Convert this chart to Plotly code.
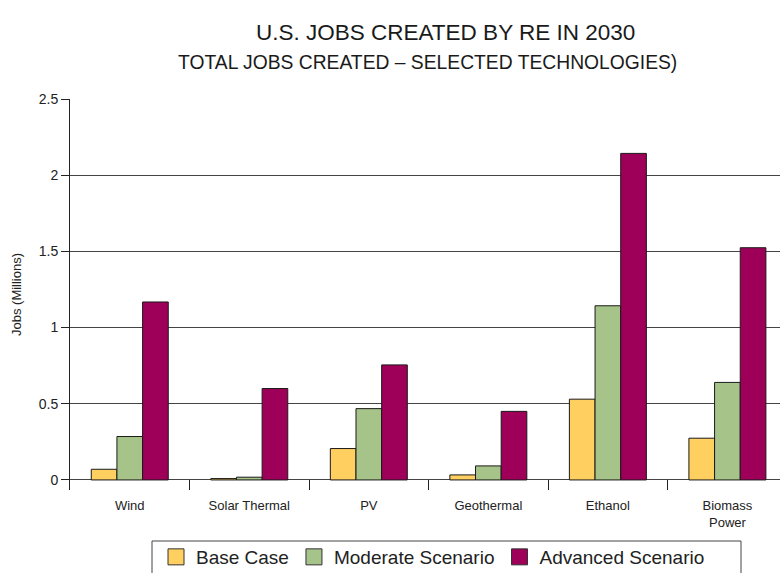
import plotly.graph_objects as go

# Technologies and jobs created in 2030 (millions)
technologies = ["Wind", "Solar Thermal", "PV", "Geothermal", "Ethanol", "Biomass<br>Power"]
base_case = [0.07, 0.009, 0.206, 0.033, 0.53, 0.274]
moderate_scenario = [0.285, 0.018, 0.468, 0.092, 1.143, 0.64]
advanced_scenario = [1.168, 0.60, 0.755, 0.45, 2.143, 1.524]

series_names = ["Base Case", "Moderate Scenario", "Advanced Scenario"]
series_colors = ["#FFCF60", "#A6C48A", "#9E0059"]
y_ticks = [0, 0.5, 1, 1.5, 2, 2.5]
y_tick_labels = ["0", "0.5", "1", "1.5", "2", "2.5"]

FONT = "Liberation Sans, Arial, sans-serif"

fig = go.Figure()

for name, values, color in zip(series_names,
                               [base_case, moderate_scenario, advanced_scenario],
                               series_colors):
    fig.add_trace(go.Bar(
        x=technologies, y=values, name=name,
        marker=dict(color=color, line=dict(color="#1a1a1a", width=1)),
        showlegend=False,
    ))
    # larger square swatch for the legend
    fig.add_trace(go.Scatter(
        x=[None], y=[None], mode="markers", name=name,
        marker=dict(symbol="square", size=16, color=color,
                    line=dict(color="#333333", width=1)),
        showlegend=True,
    ))

fig.update_layout(
    width=780, height=573,
    margin=dict(l=70, r=0, t=99, b=83, autoexpand=False),
    paper_bgcolor="white", plot_bgcolor="white",
    barmode="group", bargap=0.356, bargroupgap=0,
    font=dict(family=FONT, color="#222222"),
    legend=dict(
        orientation="h", xref="container", yref="container",
        x=156 / 780, y=1 - 538 / 573, xanchor="left", yanchor="top",
        font=dict(family=FONT, size=19, color="#222222"),
        borderwidth=0, bgcolor="rgba(0,0,0,0)",
        itemsizing="trace",
    ),
    xaxis=dict(
        type="category", range=[-0.5, 5.44],
        tickson="boundaries", ticks="inside", ticklen=10, tickcolor="#222222",
        showgrid=False, showline=False, zeroline=False,
        ticklabelstandoff=6,
        tickfont=dict(family=FONT, size=13, color="#222222"),
    ),
    yaxis=dict(
        range=[-0.066, 2.5],
        tickvals=y_ticks, ticktext=y_tick_labels,
        ticks="outside", ticklen=8, tickcolor="#222222",
        showgrid=True, gridcolor="#444444", gridwidth=1,
        showline=True, linecolor="#222222", linewidth=1,
        zeroline=False,
        tickfont=dict(family=FONT, size=14, color="#222222"),
        title=dict(text="Jobs (Millions)", standoff=14,
                   font=dict(family=FONT, size=13, color="#222222")),
    ),
    # legend frame, running off the bottom edge of the page
    shapes=[
        dict(type="rect", xref="paper", yref="paper",
             x0=(152 - 70) / 710, x1=(741 - 70) / 710,
             y0=(490 - 541) / 391, y1=(490 - 600) / 391,
             line=dict(color="#444444", width=1), fillcolor="rgba(0,0,0,0)",
             layer="below"),
    ],
    annotations=[
        dict(text="U.S. JOBS CREATED BY RE IN 2030", xref="paper", yref="paper",
             x=0.5289, y=1.1688, xanchor="center", yanchor="middle", showarrow=False,
             font=dict(family=FONT, size=22.5, color="#1a1a1a")),
        dict(text="TOTAL JOBS CREATED \u2013 SELECTED TECHNOLOGIES)", xref="paper", yref="paper",
             x=0.5035, y=1.0946, xanchor="center", yanchor="middle", showarrow=False,
             font=dict(family=FONT, size=19.3, color="#1a1a1a")),
    ],
)

fig.write_html("out.html")
